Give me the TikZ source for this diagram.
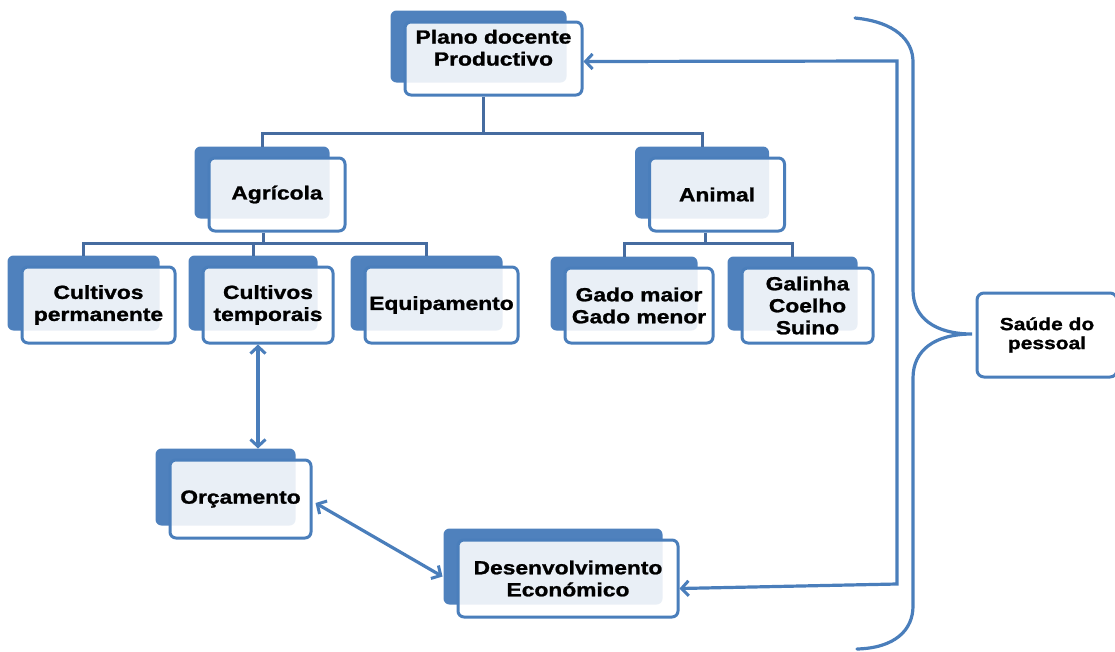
\documentclass[tikz,border=0pt]{standalone}
\usepackage{fontspec}
\newfontfamily\cardfont{Liberation Sans}[FakeStretch=1.2, FakeBold=1.2]
\usetikzlibrary{arrows.meta,calc}
\pgfdeclarelayer{bg}
\pgfsetlayers{bg,main}
\definecolor{shc}{RGB}{79,129,189}
\definecolor{bdr}{RGB}{74,126,187}
\definecolor{treec}{RGB}{70,108,160}
\tikzset{
  card/.style={draw=bdr, line width=3pt, rounded corners=6pt, fill=white,
    fill opacity=0.88, text opacity=1, draw opacity=1, align=center, inner sep=0pt,
    font=\cardfont\bfseries\fontsize{19}{22}\selectfont},
  plainbox/.style={draw=bdr, line width=3pt, rounded corners=7pt, fill=white,
    align=center, inner sep=0pt,
    font=\cardfont\bfseries\fontsize{17.5}{19}\selectfont},
  tree/.style={draw=treec, line width=3pt},
  arr/.style={draw=bdr, line width=3.2pt,
    arrows={Straight Barb[length=7pt,width=15pt,line width=3pt]-Straight Barb[length=7pt,width=15pt,line width=3pt]}},
  brace/.style={draw=bdr, line width=3.2pt, line cap=round}
}
\newcommand\mycard[6]{%
  \node[card, minimum width=#4pt, minimum height=#5pt] (#1) at (#2,#3) {#6};
  \begin{pgfonlayer}{bg}
    \fill[shc, rounded corners=6pt] ($(#1.north west)+(-13,-10)$) rectangle ($(#1.south east)+(-17,-14)$);
  \end{pgfonlayer}
  \coordinate (#1-st) at ($(#1.north)+(-15,-10)$);
}
\begin{document}
\begin{tikzpicture}[x=1pt,y=-1pt]
\useasboundingbox (0,0) rectangle (1115,651);
\clip (0,0) rectangle (1115,651);

\mycard{plano}{493.5}{58.5}{177}{73}{\raisebox{4pt}[0pt][0pt]{\begin{tabular}{@{}c@{}}Plano docente\\Productivo\end{tabular}}}
\mycard{agri}{277}{194.5}{136}{73}{Agrícola}
\mycard{animal}{717}{194.5}{135}{73}{Animal}
\mycard{cperm}{98.5}{305}{153}{76}{Cultivos\\permanente}
\mycard{ctemp}{268}{305}{130}{76}{Cultivos\\temporais}
\mycard{equip}{441.5}{305}{153}{76}{Equipamento}
\mycard{gado}{639}{305.5}{148}{75}{Gado maior\\Gado menor}
\mycard{galinha}{807.5}{305.5}{131}{75}{Galinha\\Coelho\\Suino}
\mycard{orc}{240.5}{499}{141}{78}{Orçamento}
\mycard{desen}{568}{578.5}{220}{77}{Desenvolvimento\\Económico}

\node[plainbox, minimum width=140pt, minimum height=84pt] (saude) at (1047,335) {Saúde do\\pessoal};

% tree connectors
\coordinate (j1) at (483,133);
\draw[tree] (j1 |- plano.south) -- (j1);
\draw[tree] (agri-st) |- (j1) -| (animal-st);
\coordinate (j2) at (263,243);
\draw[tree] (j2 |- agri.south) -- (j2);
\draw[tree] (cperm-st) |- (j2) -| (equip-st);
\draw[tree] (ctemp-st) -- (ctemp-st |- j2);
\coordinate (j3) at (705,243);
\draw[tree] (j3 |- animal.south) -- (j3);
\draw[tree] (gado-st) |- (j3) -| (galinha-st);

% arrows
\coordinate (ta) at ($(ctemp.south)+(-10,0)$);
\draw[arr] (ta) -- (ta |- orc-st);
\draw[arr] ($(orc.east)+(3,4)$) -- ($(desen.west)+(-14,-2)$);
\coordinate (tr) at (897,61);
\coordinate (br) at (897,584);
\draw[arr] ($(plano.east)+(0,3)$) -- (tr) -- (br) -- ($(desen.east)+(0,10)$);

% brace
\draw[brace] (855,18) .. controls (895,22) and (913,40) .. (913,62) -- (913,290)
  .. controls (913,318) and (935,334) .. (972,334)
  .. controls (935,334) and (913,350) .. (913,378) -- (913,606)
  .. controls (913,630) and (895,648) .. (857,649);
\end{tikzpicture}
\end{document}
